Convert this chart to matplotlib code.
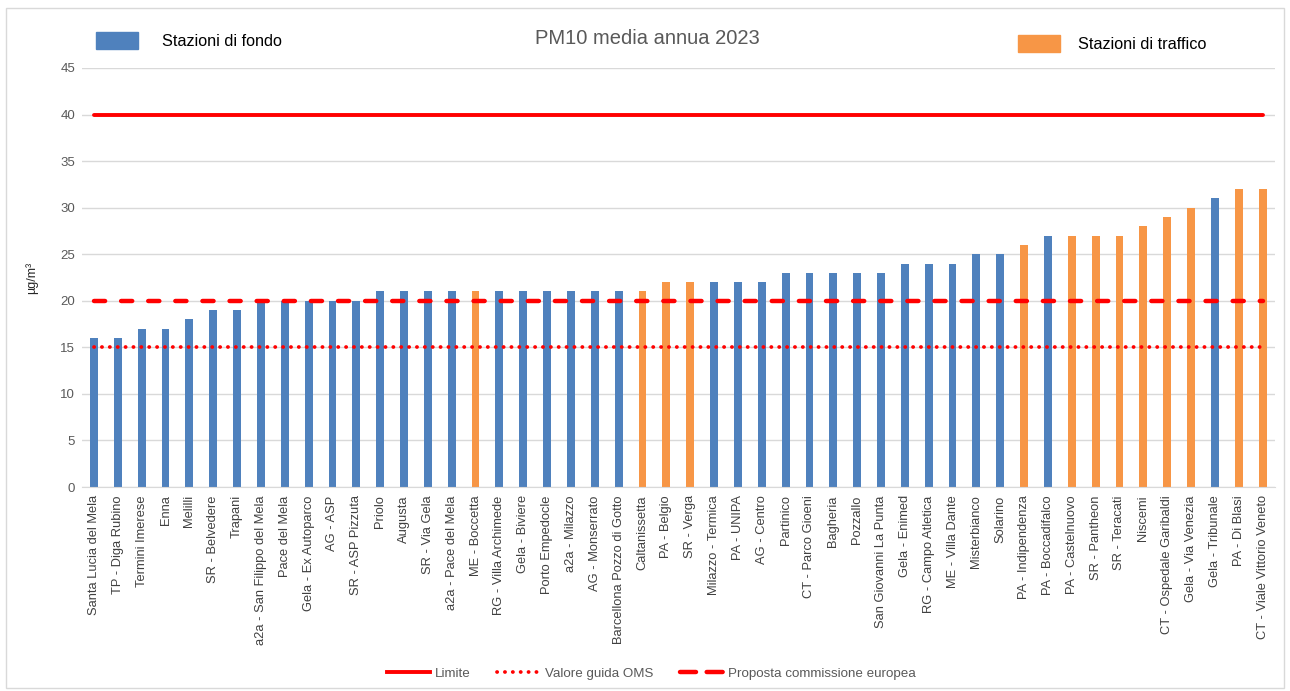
import matplotlib.pyplot as plt
from matplotlib.patches import Patch, Rectangle
from matplotlib.lines import Line2D

# stazioni e medie annue PM10 (µg/m³), tipo: F = fondo, T = traffico
stazioni = ['Santa Lucia del Mela', 'TP - Diga Rubino', 'Termini Imerese', 'Enna', 'Melilli',
            'SR - Belvedere', 'Trapani', 'a2a - San Filippo del Mela', 'Pace del Mela',
            'Gela - Ex Autoparco', 'AG - ASP', 'SR - ASP Pizzuta', 'Priolo', 'Augusta',
            'SR - Via Gela', 'a2a - Pace del Mela', 'ME - Boccetta', 'RG - Villa Archimede',
            'Gela - Biviere', 'Porto Empedocle', 'a2a - Milazzo', 'AG - Monserrato',
            'Barcellona Pozzo di Gotto', 'Caltanissetta', 'PA - Belgio', 'SR - Verga',
            'Milazzo - Termica', 'PA - UNIPA', 'AG - Centro', 'Partinico', 'CT - Parco Gioeni',
            'Bagheria', 'Pozzallo', 'San Giovanni La Punta', 'Gela - Enimed',
            'RG - Campo Atletica', 'ME - Villa Dante', 'Misterbianco', 'Solarino',
            'PA - Indipendenza', 'PA - Boccadifalco', 'PA - Castelnuovo', 'SR - Pantheon',
            'SR - Teracati', 'Niscemi', 'CT - Ospedale Garibaldi', 'Gela - Via Venezia',
            'Gela - Tribunale', 'PA - Di Blasi', 'CT - Viale Vittorio Veneto']
valori = [16, 16, 17, 17, 18, 19, 19, 20, 20, 20, 20, 20, 21, 21, 21, 21, 21, 21, 21, 21,
          21, 21, 21, 21, 22, 22, 22, 22, 22, 23, 23, 23, 23, 23, 24, 24, 24, 25, 25, 26,
          27, 27, 27, 27, 28, 29, 30, 31, 32, 32]
tipo = ['F'] * 16 + ['T'] + ['F'] * 6 + ['T', 'T', 'T'] + ['F'] * 13 + ['T', 'F'] + \
       ['T'] * 6 + ['F', 'T', 'T']

limite = 40
oms = 15
proposta_ue = 20

BLU = '#4f81bd'
ARANCIO = '#f79646'
ROSSO = '#ff0000'
GRIGIO = '#595959'

plt.rcParams['font.family'] = ['Liberation Sans', 'DejaVu Sans']

fig = plt.figure(figsize=(12.9, 6.91), dpi=100)
ax = fig.add_axes([0.0636, 0.2952, 0.9244, 0.6064])

x = list(range(len(stazioni)))
colori = [BLU if t == 'F' else ARANCIO for t in tipo]
ax.bar(x, valori, width=0.33, color=colori, zorder=2)

ax.plot(x, [limite] * len(x), color=ROSSO, lw=2.8, solid_capstyle='round', zorder=3)
ax.plot(x, [proposta_ue] * len(x), color=ROSSO, lw=3.2, dashes=(2.5, 3.6),
        dash_capstyle='round', zorder=3)
ax.plot(x, [oms] * len(x), color=ROSSO, lw=2.7, dashes=(0.05, 2.05),
        dash_capstyle='round', zorder=3)

ax.set_xlim(-0.5, len(x) - 0.5)
ax.set_ylim(0, 45)
ax.set_yticks(range(0, 46, 5))
ax.grid(axis='y', color='#d9d9d9', lw=1, zorder=0)
ax.set_xticks(x)
ax.set_xticklabels(stazioni, rotation=90, fontsize=9.3, color='#404040')
ax.tick_params(axis='x', length=0, pad=6)
ax.tick_params(axis='y', length=0, pad=5, labelsize=9.5, labelcolor=GRIGIO)
for s in ['top', 'right', 'left']:
    ax.spines[s].set_visible(False)
ax.spines['bottom'].set_color('#d9d9d9')

ax.set_ylabel('µg/m³', fontsize=9, color='#262626', labelpad=16)

fig.text(0.502, 0.945, 'PM10 media annua 2023', ha='center', va='center',
         fontsize=14.5, color=GRIGIO)

# legende in alto
leg1 = fig.legend(handles=[Patch(color=BLU)], labels=['Stazioni di fondo'],
                  loc='center left', bbox_to_anchor=(0.063, 0.941), frameon=False,
                  fontsize=11.7, handlelength=2.6, handleheight=1.2, handletextpad=1.45)
leg2 = fig.legend(handles=[Patch(color=ARANCIO)], labels=['Stazioni di traffico'],
                  loc='center left', bbox_to_anchor=(0.778, 0.937), frameon=False,
                  fontsize=11.7, handlelength=2.6, handleheight=1.2, handletextpad=1.05)

# legenda in basso
h_lim = Line2D([], [], color=ROSSO, lw=2.8)
h_oms = Line2D([], [], color=ROSSO, lw=2.7, dashes=(0.05, 2.05), dash_capstyle='round')
h_ue = Line2D([], [], color=ROSSO, lw=3.2, dashes=(3.6, 2.4), dash_capstyle='round')
fig.legend(handles=[h_lim, h_oms, h_ue],
           labels=['Limite', 'Valore guida OMS', 'Proposta commissione europea'],
           loc='center', bbox_to_anchor=(0.505, 0.025), ncol=3, frameon=False,
           fontsize=9.6, labelcolor=GRIGIO, handlelength=3.2, handletextpad=0.4,
           columnspacing=2.0)

# cornice
fig.patches.append(Rectangle((0.005, 0.004), 0.99, 0.984, transform=fig.transFigure,
                             fill=False, edgecolor='#d9d9d9', lw=1))

fig.savefig('out.png', dpi=100)
